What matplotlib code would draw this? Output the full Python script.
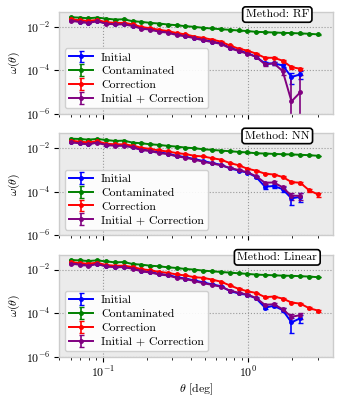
import matplotlib
matplotlib.use("Agg")
import matplotlib.pyplot as plt
from matplotlib.ticker import NullLocator, FixedLocator

# angular bins (deg)
theta = [0.060, 0.069, 0.079, 0.091, 0.105, 0.121, 0.139, 0.160, 0.184, 0.211,
         0.243, 0.279, 0.321, 0.369, 0.425, 0.488, 0.562, 0.646, 0.743, 0.854,
         0.982, 1.129, 1.299, 1.494, 1.718, 1.975, 2.271, 2.612, 3.004]

methods = ["RF", "NN", "Linear"]
labels = ["Initial", "Contaminated", "Correction", "Initial + Correction"]
colors = ["blue", "green", "red", "purple"]

# contaminated sample, same in every panel
w_cont = [0.0275, 0.0266, 0.0248, 0.0266, 0.0239, 0.0216, 0.0223, 0.0181, 0.0169, 0.0152,
          0.0142, 0.0128, 0.0119, 0.0107, 0.0100, 0.0090, 0.0084, 0.0078, 0.0073, 0.0068,
          0.0064, 0.0059, 0.0057, 0.0055, 0.0053, 0.0052, 0.0050, 0.0048, 0.0045]

# initial sample (first 18 bins common to all panels)
w_init_head = [0.0201, 0.0175, 0.0157, 0.0187, 0.0147, 0.0137, 0.0137, 0.0115, 0.0087, 0.0078,
               0.0064, 0.0057, 0.0045, 0.0039, 0.0032, 0.0026, 0.0021, 0.00175]
w_init_rf = [1.12e-3, 8.1e-4, 6.3e-4, 4.2e-4, 2.1e-4, 2.1e-4, 1.7e-4, 5.0e-5, 6.6e-5]
w_init_nn = [1.2e-3, 9.5e-4, 7.6e-4, 4.8e-4, 1.7e-4, 1.86e-4, 1.32e-4, 5.0e-5, 5.9e-5]
w_init_lin = [1.05e-3, 8.1e-4, 6.9e-4, 4.8e-4, 1.8e-4, 2.2e-4, 1.38e-4, 3.8e-5, 5.9e-5]

# correction
w_corr_rf = [0.0223, 0.0201, 0.0187, 0.0208, 0.0163, 0.0152, 0.0152, 0.0132, 0.0097, 0.0087,
             0.0073, 0.0064, 0.0052, 0.0045, 0.0036, 0.0031, 0.0026, 0.0021, 1.4e-3, 1.0e-3,
             8.1e-4, 5.9e-4, 3.8e-4, 3.8e-4, 2.8e-4, 1.4e-4, 1.2e-4]
w_corr_nn = [0.0224, 0.0200, 0.0186, 0.0209, 0.0162, 0.0151, 0.0151, 0.0132, 0.0105, 0.0093,
             0.0079, 0.0071, 0.0060, 0.0054, 0.0045, 0.0042, 0.0035, 0.0030, 0.0021, 0.00166,
             1.15e-3, 9.3e-4, 6.8e-4, 6.2e-4, 4.8e-4, 2.8e-4, 2.6e-4, 1.17e-4, 7.6e-5]
w_corr_lin = [0.0224, 0.0200, 0.0186, 0.0209, 0.0162, 0.0151, 0.0151, 0.0132, 0.0105, 0.0093,
              0.0079, 0.0071, 0.0060, 0.0054, 0.0045, 0.0042, 0.0035, 0.0028, 1.9e-3, 1.32e-3,
              1.02e-3, 8.5e-4, 5.5e-4, 5.8e-4, 4.7e-4, 3.1e-4, 2.75e-4, 1.7e-4, 1.32e-4]

# initial + correction
w_both_head = [0.0190, 0.0168, 0.0150, 0.0180, 0.0140, 0.0130, 0.0130, 0.0109, 0.0083, 0.0074,
               0.0060, 0.0054, 0.0042, 0.0037, 0.0030, 0.0024, 0.0020, 0.00165]
w_both_rf = [1.05e-3, 7.8e-4, 5.9e-4, 4.2e-4, 1.9e-4, 2.1e-4, 9.3e-5, 3.8e-6, 1.0e-5]
w_both_nn = [1.26e-3, 1.0e-3, 7.9e-4, 5.2e-4, 2.6e-4, 2.7e-4, 1.6e-4, 6.6e-5, 6.6e-5]
w_both_lin = [1.1e-3, 8.7e-4, 7.2e-4, 5.0e-4, 2.4e-4, 2.6e-4, 1.5e-4, 6.9e-5, 8.1e-5]

# error bars on the last bins (earlier ones are hidden by the markers)
err_init_tail = [8e-5, 6e-5, 5e-5, 4e-5, 3e-5, 3e-5, 3e-5, 2.5e-5, 2.5e-5]
err_cont_tail = [1e-4, 1e-4, 1e-4, 1e-4, 1e-4, 1e-4, 1e-4, 1e-4, 1e-4, 1e-4, 1e-4]
err_corr_tail = [8e-5, 6e-5, 5e-5, 4e-5, 3e-5, 3e-5, 2.5e-5, 2e-5, 2e-5, 2e-5, 1.5e-5]
err_both_rf_tail = [8e-5, 6e-5, 5e-5, 4e-5, 3e-5, 3e-5, 3e-5, 5e-5, 5e-5]
err_both_tail = [8e-5, 6e-5, 5e-5, 4e-5, 3e-5, 3e-5, 3e-5, 2.5e-5, 2.5e-5]

panels = {
    "RF": [w_init_head + w_init_rf, w_cont, w_corr_rf, w_both_head + w_both_rf],
    "NN": [w_init_head + w_init_nn, w_cont, w_corr_nn, w_both_head + w_both_nn],
    "Linear": [w_init_head + w_init_lin, w_cont, w_corr_lin, w_both_head + w_both_lin],
}


def pad_err(vals, tail):
    return [0.0] * (len(vals) - len(tail)) + tail[-len(vals):]


plt.rcParams['font.family'] = 'serif'
plt.rcParams['font.serif'] = ['cmr10']
plt.rcParams['mathtext.fontset'] = 'cm'
plt.rcParams['axes.formatter.use_mathtext'] = True
plt.rcParams['font.size'] = 8.5

fig, axes = plt.subplots(3, 1, figsize=(3.5, 4), dpi=100, sharex=True)
fig.subplots_adjust(left=0.169, right=0.951, top=0.97, bottom=0.108, hspace=0.19)

for ax, method in zip(axes, methods):
    series = panels[method]
    for i, (vals, lab, col) in enumerate(zip(series, labels, colors)):
        if i == 1:
            tail = err_cont_tail
        elif i == 2:
            tail = err_corr_tail
        elif i == 3:
            tail = err_both_rf_tail if method == "RF" else err_both_tail
        else:
            tail = err_init_tail
        ax.errorbar(theta[:len(vals)], vals, yerr=pad_err(vals, tail), color=col,
                    marker='o', ms=2.5, lw=1.4, capsize=1.8, elinewidth=1.2, label=lab)
    ax.set_xscale('log')
    ax.set_yscale('log')
    ax.set_xlim(0.05, 3.8)
    ax.set_ylim(1e-6, 0.048)
    ax.yaxis.set_major_locator(FixedLocator([1e-6, 1e-4, 1e-2]))
    ax.yaxis.set_minor_locator(NullLocator())
    ax.set_facecolor('#ebebeb')
    for s in ax.spines.values():
        s.set_color('#cccccc')
        s.set_linewidth(1.0)
    ax.grid(True, which='major', ls=':', color='#999999', lw=0.8)
    ax.set_axisbelow(True)
    ax.tick_params(which='major', length=3.5, width=0.8, direction='out', pad=2.5)
    ax.tick_params(which='minor', length=2, width=0.6, direction='out')
    ax.set_ylabel(r'$\omega(\theta)$', labelpad=3)
    ax.legend(loc='lower left', fancybox=True, framealpha=0.9, fontsize=8.5,
              handlelength=2.0, labelspacing=0.3, borderpad=0.35, handletextpad=0.7)
    ax.text(0.797, 0.975, 'Method: ' + method, transform=ax.transAxes,
            ha='center', va='center', fontsize=8.5,
            bbox=dict(boxstyle='round,pad=0.25', fc='white', ec='black', lw=1.2))

axes[-1].set_xlabel(r'$\theta$ [deg]', labelpad=1)

fig.savefig('out.png', dpi=100)
